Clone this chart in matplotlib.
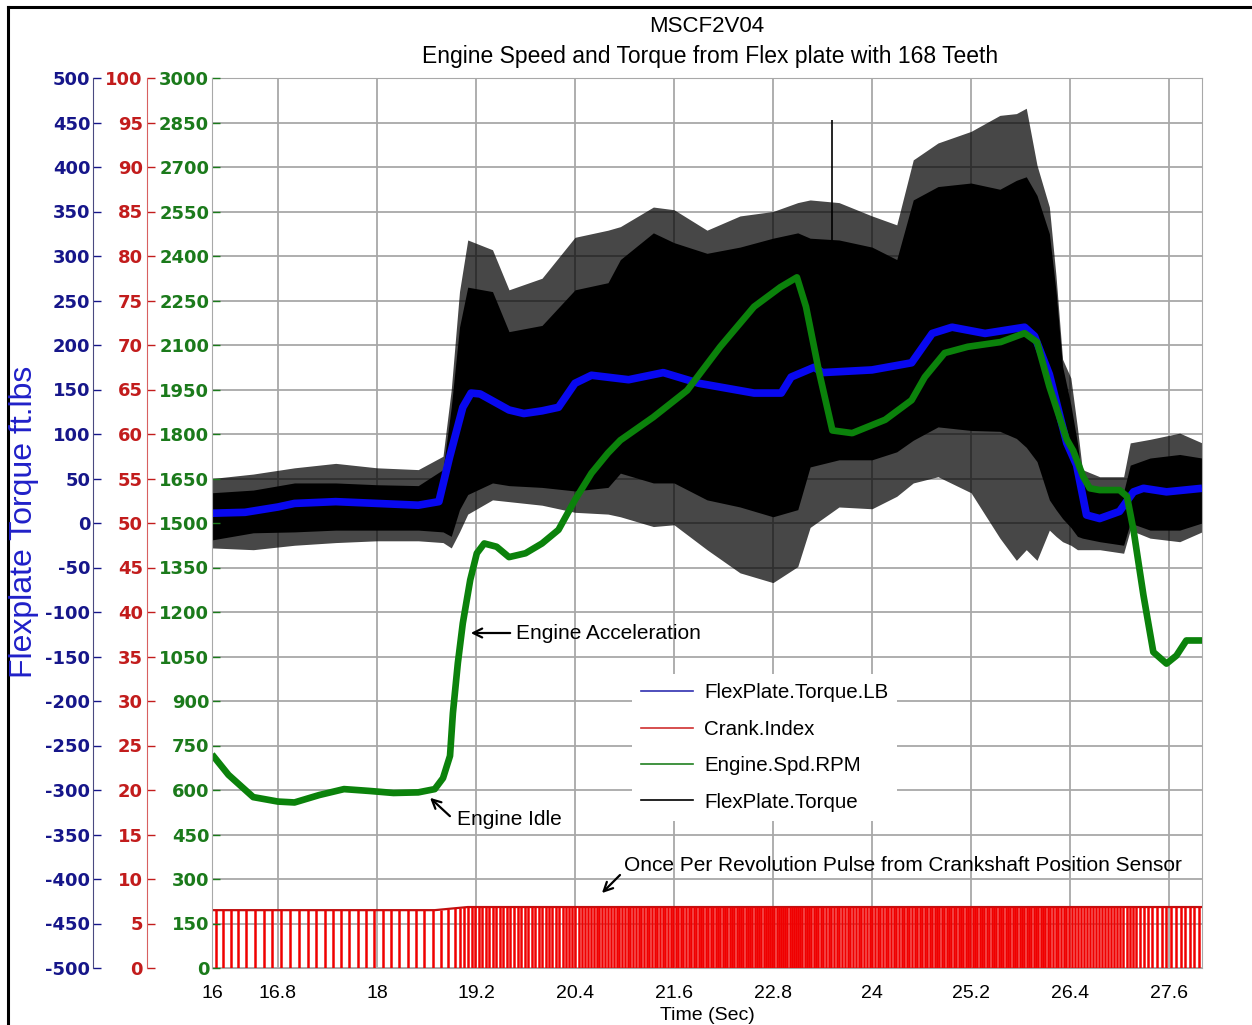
import numpy as np
import matplotlib.pyplot as plt
from matplotlib.lines import Line2D

plt.rcParams['font.family'] = ['Liberation Sans', 'DejaVu Sans']

# ---- data ----
# Engine speed (RPM)
rpm_t = [16.0, 16.2, 16.5, 16.8, 17.0, 17.3, 17.6, 17.9, 18.2, 18.5, 18.7, 18.8,
         18.885, 18.92, 18.98, 19.04, 19.13, 19.21, 19.3, 19.45, 19.6, 19.8, 20.0,
         20.2, 20.4, 20.6, 20.8, 20.95, 21.35, 21.76, 22.16, 22.57, 22.89, 23.09,
         23.2, 23.36, 23.52, 23.76, 24.16, 24.48, 24.64, 24.88, 25.16, 25.56, 25.85,
         26.0, 26.15, 26.36, 26.44, 26.56, 26.64, 26.76, 27.0, 27.09, 27.17, 27.29,
         27.41, 27.57, 27.69, 27.81, 28.0]
rpm_val = [720, 651, 576, 561, 558, 583, 603, 597, 590, 592, 603, 640,
           715, 859, 1028, 1162, 1308, 1398, 1431, 1420, 1385, 1398, 1431,
           1477, 1578, 1668, 1736, 1779, 1857, 1947, 2094, 2229, 2295, 2328,
           2229, 2007, 1812, 1803, 1848, 1914, 1992, 2073, 2094, 2110, 2140,
           2110, 1960, 1782, 1743, 1656, 1617, 1611, 1611, 1590, 1476, 1257,
           1065, 1026, 1053, 1104, 1104]

# Smoothed flexplate torque (ft.lbs)
tlb_t = [16.0, 16.4, 16.8, 17.0, 17.5, 18.0, 18.5, 18.75, 18.88, 19.04, 19.14,
         19.25, 19.6, 19.78, 20.0, 20.2, 20.4, 20.6, 21.05, 21.47, 21.9, 22.57,
         22.9, 23.02, 23.3, 23.4, 24.0, 24.48, 24.73, 24.97, 25.37, 25.85, 25.97,
         26.15, 26.36, 26.48, 26.6, 26.76, 27.0, 27.17, 27.29, 27.57, 28.0]
tlb_val = [11, 12, 18, 22, 24, 22, 20, 24, 74, 130, 146,
           145, 127, 123, 126, 130, 157, 166, 161, 169, 157, 146,
           146, 164, 175, 169, 172, 180, 213, 220, 213, 220, 210,
           167, 90, 65, 9, 5, 13, 35, 39, 35, 39]

# Raw flexplate torque band: dense core and spike extremes (ft.lbs)
tq_t = [16.0, 16.5, 17.0, 17.5, 18.0, 18.5, 18.8, 18.9, 19.0, 19.1, 19.4, 19.6,
        20.0, 20.4, 20.8, 20.95, 21.35, 21.6, 22.0, 22.4, 22.8, 23.1, 23.25,
        23.6, 24.0, 24.3, 24.5, 24.8, 25.2, 25.55, 25.75, 25.87, 26.0, 26.15,
        26.23, 26.31, 26.41, 26.49, 26.55, 26.76, 27.05, 27.13, 27.37, 27.73, 28.0]
tq_core_hi = [34, 37, 45, 45, 43, 42, 60, 130, 220, 265, 260, 215,
              222, 262, 270, 296, 326, 315, 303, 310, 320, 326, 320,
              318, 310, 296, 363, 378, 382, 375, 385, 389, 368, 325,
              261, 176, 133, 90, 47, 35, 35, 65, 73, 77, 73]
tq_core_lo = [-19, -11, -10, -8, -8, -8, -10, -15, 15, 32, 45, 42,
              40, 36, 40, 56, 45, 45, 26, 18, 7, 15, 63,
              71, 71, 80, 93, 108, 104, 103, 95, 85, 69, 26,
              15, 5, -5, -15, -17, -21, -25, 0, -8, -8, 0]
tq_spike_hi = [50, 55, 62, 67, 62, 60, 75, 150, 260, 318, 307, 262,
               275, 321, 329, 333, 355, 352, 329, 345, 350, 360, 363,
               360, 345, 335, 408, 427, 440, 458, 460, 466, 402, 355,
               278, 184, 163, 107, 60, 52, 52, 90, 94, 101, 90]
tq_spike_lo = [-28, -30, -25, -22, -20, -20, -22, -28, -10, 10, 26, 24,
               20, 12, 10, 7, -4, -2, -30, -56, -67, -49, -5,
               18, 16, 30, 45, 52, 34, -17, -42, -30, -42, -8,
               -15, -21, -25, -30, -30, -30, -34, -8, -17, -21, -10]
lone_spike_t = [23.52]
lone_spike_hi = [453]

# Crank index pulse level
crank_t = [16.0, 18.7, 19.1, 28.0]
crank_level = [6.5, 6.5, 6.85, 6.85]
crank_phase = 0.45

x_ticks = [16, 16.8, 18, 19.2, 20.4, 21.6, 22.8, 24, 25.2, 26.4, 27.6]
x_labels = ['16', '16.8', '18', '19.2', '20.4', '21.6', '22.8', '24', '25.2', '26.4', '27.6']

# ---- colours ----
c_blue_tk = '#16168a'
c_red_tk = '#c21c1c'
c_green_tk = '#1b7a1b'
c_grid = '#a8a8a8'

W, H = 1252, 1025
fig = plt.figure(figsize=(W / 100, H / 100), dpi=100)
ax = fig.add_axes([212 / W, 1 - 968 / H, 990 / W, 890 / H])
axr = ax.twinx()
axg = ax.twinx()

# torque (blue axis)
ax.set_xlim(16, 28)
ax.set_ylim(-500, 500)
ax.set_axisbelow(True)
ax.grid(True, color=c_grid, lw=1.3)
ax.fill_between(tq_t, tq_spike_lo, tq_spike_hi, color='black', alpha=0.72, lw=0)
ax.fill_between(tq_t, tq_core_lo, tq_core_hi, color='black', lw=0)
ax.vlines(lone_spike_t, 300, lone_spike_hi, color='black', lw=1.2)
ax.plot(tlb_t, tlb_val, color='#0808f0', lw=5.5, solid_capstyle='butt', zorder=3)

# crank index (red axis): once per revolution, from engine speed
t_fine = np.linspace(16, 28, 24001)
rev = np.cumsum(np.interp(t_fine, rpm_t, rpm_val) / 60.0) * (t_fine[1] - t_fine[0]) + crank_phase
pulse_t = t_fine[1:][np.diff(np.floor(rev)) > 0]
pulse_lvl = np.interp(pulse_t, crank_t, crank_level)
axr.set_ylim(0, 100)
axr.plot(crank_t, crank_level, color='#c01010', lw=1.6)
axr.vlines(pulse_t, 0, pulse_lvl, color='#f00000', lw=1.8)

# engine speed (green axis)
axg.set_ylim(0, 3000)
axg.plot(rpm_t, rpm_val, color='#0b820b', lw=4.8, solid_capstyle='butt')

# ---- axes styling ----
ax.set_xticks(x_ticks, x_labels)
ax.tick_params(axis='x', length=0, pad=12, labelsize=14)
ax.set_xlabel('Time (Sec)', fontsize=14, labelpad=4)

for a in (ax, axr, axg):
    for s in ('top', 'right', 'bottom', 'left'):
        a.spines[s].set_visible(False)
for s in ('top', 'right', 'bottom'):
    ax.spines[s].set_visible(True)
    ax.spines[s].set_color(c_grid)

ax.spines['left'].set_visible(True)
ax.spines['left'].set_position(('outward', 119 * 0.72))
ax.spines['left'].set_color('#4a4a80')
ax.set_yticks(range(-500, 501, 50))
ax.set_yticklabels([str(v) for v in range(-500, 501, 50)],
                   fontweight='bold', fontfamily='DejaVu Sans', fontsize=13)
ax.tick_params(axis='y', direction='in', length=6, width=1, colors=c_blue_tk, pad=2)

axr.yaxis.tick_left()
axr.spines['left'].set_visible(True)
axr.spines['left'].set_position(('outward', 65 * 0.72))
axr.spines['left'].set_color('#d86060')
axr.set_yticks(range(0, 101, 5))
axr.set_yticklabels([str(v) for v in range(0, 101, 5)],
                    fontweight='bold', fontfamily='DejaVu Sans', fontsize=13)
axr.tick_params(axis='y', direction='in', length=6, width=1, colors=c_red_tk, pad=3)

axg.yaxis.tick_left()
axg.spines['left'].set_visible(True)
axg.spines['left'].set_color(c_grid)
axg.set_yticks(range(0, 3001, 150))
axg.set_yticklabels([str(v) for v in range(0, 3001, 150)],
                    fontweight='bold', fontfamily='DejaVu Sans', fontsize=13)
axg.tick_params(axis='y', direction='in', length=6, width=1, colors=c_green_tk, pad=2)

# ---- titles and labels ----
fig.text(707 / W, 1 - 27 / H, 'MSCF2V04', ha='center', va='center', fontsize=16)
fig.text(710 / W, 1 - 57 / H, 'Engine Speed and Torque from Flex plate with 168 Teeth',
         ha='center', va='center', fontsize=16.5)
fig.text(24 / W, 1 - 522 / H, 'Flexplate Torque ft.lbs', rotation=90, ha='center',
         va='center', fontsize=23, color='#2020c8')

# ---- annotations ----
arrow = dict(arrowstyle='->', color='black', lw=1.6, mutation_scale=16)
axg.annotate('', xy=(0.2586, 0.3764), xytext=(0.304, 0.3764),
             xycoords='axes fraction', arrowprops=arrow)
axg.text(0.307, 0.3764, 'Engine Acceleration', transform=axg.transAxes,
         va='center', ha='left', fontsize=15)
axg.annotate('', xy=(0.2182, 0.1933), xytext=(0.2424, 0.1685),
             xycoords='axes fraction', arrowprops=arrow)
axg.text(0.2475, 0.1663, 'Engine Idle', transform=axg.transAxes,
         va='center', ha='left', fontsize=15)
axg.annotate('', xy=(0.3919, 0.082), xytext=(0.4141, 0.1067),
             xycoords='axes fraction', arrowprops=arrow)
axg.text(0.4162, 0.1157, 'Once Per Revolution Pulse from Crankshaft Position Sensor',
         transform=axg.transAxes, va='center', ha='left', fontsize=15)

# ---- legend ----
handles = [Line2D([], [], color='#3030b0', lw=1.2),
           Line2D([], [], color='#d03030', lw=1.2),
           Line2D([], [], color='#208020', lw=1.2),
           Line2D([], [], color='black', lw=1.2)]
labels = ['FlexPlate.Torque.LB', 'Crank.Index', 'Engine.Spd.RPM', 'FlexPlate.Torque']
leg = axg.legend(handles, labels, loc='upper left', bbox_to_anchor=(632 / W, 1 - 674 / H),
                 bbox_transform=fig.transFigure, fontsize=14.8, frameon=True,
                 fancybox=False, framealpha=1, facecolor='white', edgecolor='none',
                 handlelength=2.5, handletextpad=0.55, labelspacing=0.85,
                 borderpad=0.45, borderaxespad=0)
leg.set_zorder(10)

# ---- page frame (screenshot border) ----
fig.add_artist(Line2D([8 / W, 1], [1 - 7 / H, 1 - 7 / H], color='black', lw=2.2,
                      transform=fig.transFigure))
fig.add_artist(Line2D([8 / W, 8 / W], [0, 1 - 7 / H], color='black', lw=2.2,
                      transform=fig.transFigure))

fig.savefig('out.png', dpi=100)
